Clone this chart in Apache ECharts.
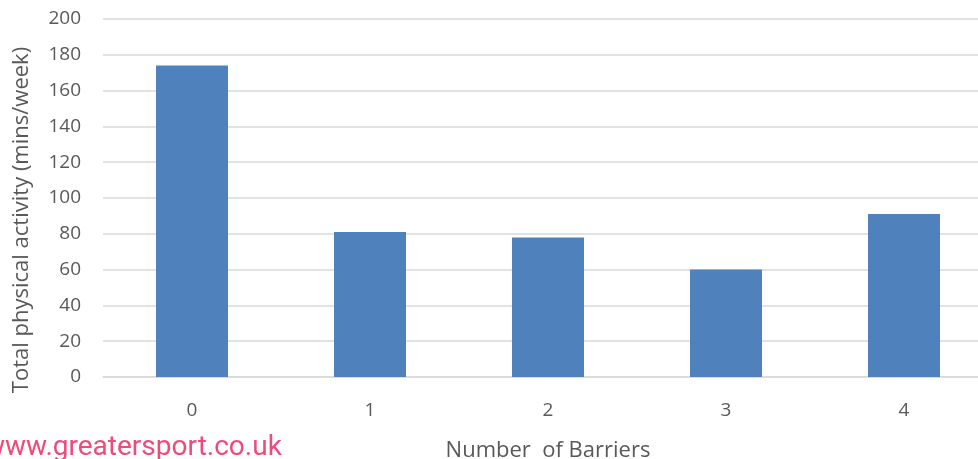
<!DOCTYPE html>
<html>
<head>
<meta charset="utf-8">
<script src="https://cdn.jsdelivr.net/npm/echarts@6/dist/echarts.min.js"></script>
<style>
  html, body { margin: 0; padding: 0; background: #ffffff; overflow: hidden; width: 978px; height: 459px; }
  /* plot runs slightly past the right edge of the page */
  #chart { width: 993px; height: 459px; }
</style>
</head>
<body>
<div id="chart"></div>
<script>
// Number of barriers reported vs. average weekly activity
const categories = ['0', '1', '2', '3', '4'];
const activityMins = [174, 81, 78, 60, 91];
const yTicks = { min: 0, max: 200, interval: 20 };

const chart = echarts.init(document.getElementById('chart'));
const textColor = '#595959';
const fontFamily = '"Open Sans", "Liberation Sans", sans-serif';

chart.setOption({
  animation: false,
  grid: { left: 103, right: 0, top: 19, bottom: 82, containLabel: false, outerBoundsMode: 'none' },
  xAxis: {
    type: 'category',
    data: categories,
    name: 'Number  of Barriers',
    nameLocation: 'middle',
    nameGap: 63,
    nameTextStyle: { color: textColor, fontSize: 22, fontFamily: fontFamily },
    axisLine: { show: true, lineStyle: { color: '#d9d9d9', width: 1.5 } },
    axisTick: { show: false },
    axisLabel: { color: textColor, fontSize: 19, fontFamily: fontFamily, margin: 24 }
  },
  yAxis: {
    type: 'value',
    min: yTicks.min,
    max: yTicks.max,
    interval: yTicks.interval,
    name: 'Total physical activity (mins/week)',
    nameLocation: 'middle',
    nameGap: 70,
    nameTextStyle: { color: textColor, fontSize: 22, fontFamily: fontFamily, padding: [0, 0, 0, -44] },
    axisLine: { show: false },
    axisTick: { show: false },
    axisLabel: { color: textColor, fontSize: 19, fontFamily: fontFamily, margin: 22 },
    splitLine: { lineStyle: { color: '#d9d9d9', width: 1.5 } }
  },
  series: [{
    type: 'bar',
    data: activityMins,
    barWidth: 72,
    itemStyle: { color: '#4f81bd' }
  }],
  graphic: [{
    type: 'text',
    left: -16,
    top: 434,
    style: {
      text: 'www.greatersport.co.uk',
      fill: '#ef4a7c',
      fontSize: 28,
      fontFamily: 'Roboto, "Liberation Sans", sans-serif'
    }
  }]
});
</script>
</body>
</html>
